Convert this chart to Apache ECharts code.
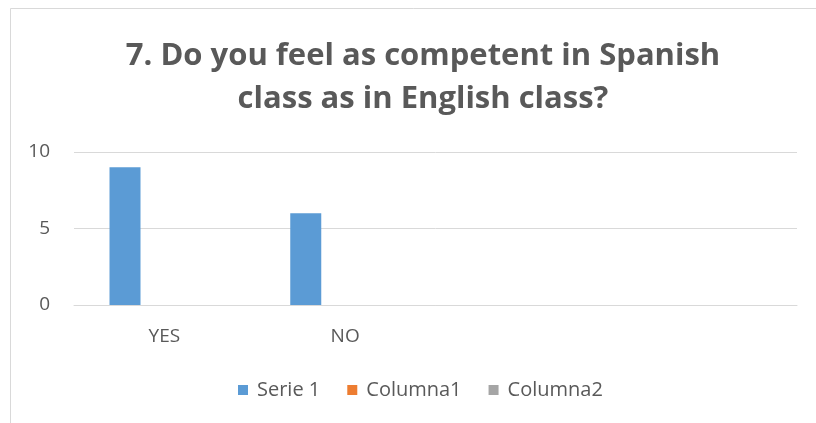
<!DOCTYPE html>
<html>
<head>
<meta charset="utf-8">
<script src="https://cdn.jsdelivr.net/npm/echarts@6/dist/echarts.min.js"></script>
<style>
  html, body { margin: 0; padding: 0; background: #fff; }
  #chart { width: 816px; height: 423px; }
</style>
</head>
<body>
<div id="chart"></div>
<script>
// data
const categories = ['YES', 'NO', '', ''];
const serie1 = [9, 6, null, null];
const columna1 = [null, null, null, null];
const columna2 = [null, null, null, null];
const yTicks = { min: 0, max: 10, interval: 5 };

const font = '"Open Sans", "Liberation Sans", sans-serif';
const textColor = '#595959';

const myChart = echarts.init(document.getElementById('chart'));
const option = {
  animation: false,
  backgroundColor: '#fff',
  title: {
    text: '7. Do you feel as competent in Spanish\nclass as in English class?',
    left: 418,
    textAlign: 'center',
    top: 30,
    textStyle: {
      fontFamily: font,
      fontSize: 31,
      fontWeight: 'bold',
      color: textColor,
      lineHeight: 43
    }
  },
  graphic: [
    {
      type: 'rect',
      shape: { x: 10.5, y: 8.5, width: 830, height: 430 },
      style: { fill: 'none', stroke: '#d9d9d9', lineWidth: 1 },
      silent: true
    }
  ],
  legend: {
    bottom: 18,
    left: 233,
    itemWidth: 10,
    itemHeight: 10,
    itemGap: 27,
    itemStyle: { borderWidth: 0 },
    icon: 'rect',
    textStyle: { fontFamily: font, fontSize: 20, color: textColor, padding: [0, 0, 0, 4] },
    data: ['Serie 1', 'Columna1', 'Columna2']
  },
  grid: { left: 74, right: 19, top: 152, bottom: 118 },
  xAxis: {
    type: 'category',
    data: categories,
    axisLine: { lineStyle: { color: '#d9d9d9', width: 1 } },
    axisTick: { show: false },
    axisLabel: { fontFamily: font, fontSize: 19, color: textColor, margin: 22 }
  },
  yAxis: {
    type: 'value',
    min: yTicks.min,
    max: yTicks.max,
    interval: yTicks.interval,
    axisLine: { show: false },
    axisTick: { show: false },
    splitLine: { lineStyle: { color: '#d9d9d9', width: 1 } },
    axisLabel: { fontFamily: font, fontSize: 19, color: textColor, margin: 24 }
  },
  series: [
    { name: 'Serie 1', type: 'bar', data: serie1, barWidth: 31, barGap: '27%', itemStyle: { color: '#5b9bd5' } },
    { name: 'Columna1', type: 'bar', data: columna1, barWidth: 31, barGap: '27%', itemStyle: { color: '#ed7d31' } },
    { name: 'Columna2', type: 'bar', data: columna2, barWidth: 31, barGap: '27%', itemStyle: { color: '#a5a5a5' } }
  ]
};
myChart.setOption(option);
</script>
</body>
</html>
